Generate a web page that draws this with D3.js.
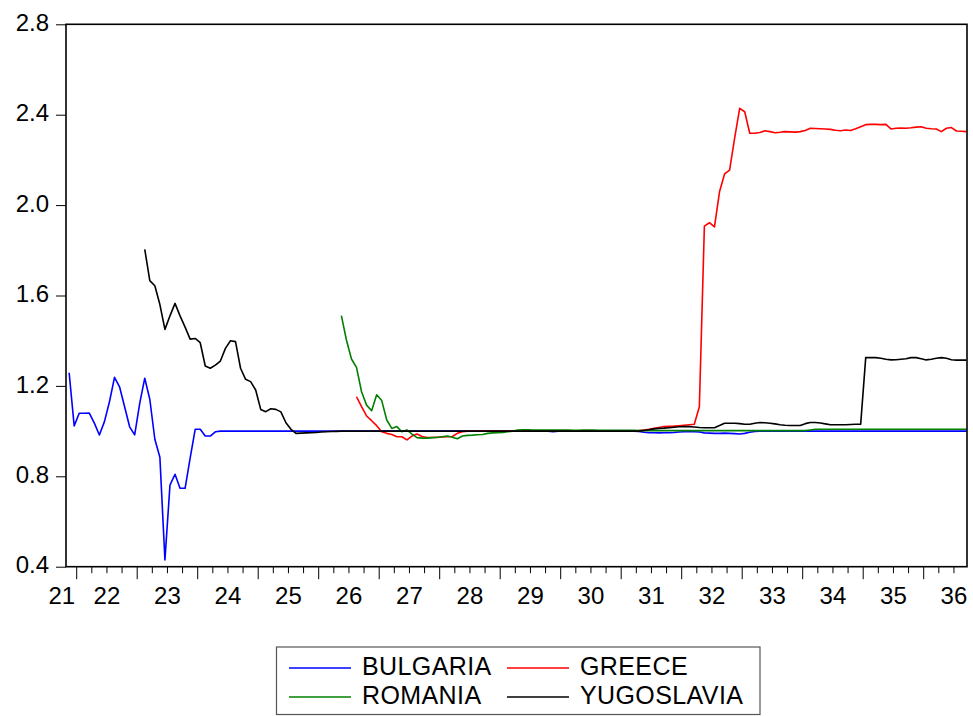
<!DOCTYPE html>
<html>
<head>
<meta charset="utf-8">
<script src="https://cdn.jsdelivr.net/npm/d3@7/dist/d3.min.js"></script>
<style>
  html, body { margin: 0; padding: 0; background: #fff; }
  svg { display: block; }
  text { font-family: "Liberation Sans", Arial, Helvetica, sans-serif; fill: #000; }
</style>
</head>
<body>
<svg id="chart" width="973" height="716"></svg>
<script>
// ---------------- DATA (monthly, Nov 1921 .. Sep 1936) ----------------
const startYear = 1921, startMonth = 11, nMonths = 179;
const seriesNames = ["BULGARIA", "GREECE", "ROMANIA", "YUGOSLAVIA"];
const seriesColors = ["#0000FF", "#FF0000", "#008000", "#000000"];
const yTickValues = [0.4, 0.8, 1.2, 1.6, 2.0, 2.4, 2.8];
const xYearLabels = [21, 22, 23, 24, 25, 26, 27, 28, 29, 30, 31, 32, 33, 34, 35, 36];

const N = null;
const bulgaria = [
  1.258, 1.023,
  1.079, 1.079, 1.080, 1.035, 0.983, 1.042, 1.130, 1.238, 1.196, 1.108, 1.019, 0.983,
  1.123, 1.234, 1.141, 0.964, 0.884, 0.430, 0.761, 0.809, 0.747, 0.747, 0.880, 1.008,
  1.008, 0.978, 0.978, 0.997, 1.000, 1.000, 1.000, 1.000, 1.000, 1.000, 1.000, 1.000,
  1.000, 1.000, 1.000, 1.000, 1.000, 1.000, 1.000, 1.000, 1.000, 1.000, 1.000, 1.000,
  1.000, 1.000, 1.000, 1.000, 1.000, 1.000, 1.000, 1.000, 1.000, 1.000, 1.000, 1.000,
  1.000, 1.000, 1.000, 1.000, 1.000, 1.000, 1.000, 1.000, 1.000, 1.000, 1.000, 1.000,
  1.000, 1.000, 1.000, 1.000, 1.000, 1.000, 1.000, 1.000, 1.000, 1.000, 1.000, 1.000,
  1.000, 1.000, 1.000, 1.000, 1.000, 1.000, 1.000, 1.000, 1.000, 1.000, 0.997, 1.000,
  1.000, 1.000, 1.000, 1.000, 1.000, 1.000, 1.000, 1.000, 1.000, 1.000, 1.000, 1.000,
  1.000, 1.000, 1.000, 0.998, 0.995, 0.993, 0.993, 0.992, 0.993, 0.993, 0.994, 0.996,
  0.997, 0.997, 0.997, 0.996, 0.992, 0.991, 0.990, 0.990, 0.991, 0.990, 0.989, 0.987,
  0.990, 0.995, 0.998, 1.000, 1.000, 1.000, 1.000, 1.000, 1.000, 1.000, 1.000, 1.000,
  1.000, 1.000, 1.000, 1.000, 1.000, 1.000, 1.000, 1.000, 1.000, 1.000, 1.000, 1.000,
  1.000, 1.000, 1.000, 1.000, 1.000, 1.000, 1.000, 1.000, 1.000, 1.000, 1.000, 1.000,
  1.000, 1.000, 1.000, 1.000, 1.000, 1.000, 1.000, 1.000, 1.000
];
const greece = [
  N, N,
  N, N, N, N, N, N, N, N, N, N, N, N,
  N, N, N, N, N, N, N, N, N, N, N, N,
  N, N, N, N, N, N, N, N, N, N, N, N,
  N, N, N, N, N, N, N, N, N, N, N, N,
  N, N, N, N, N, N, N, 1.152, 1.108, 1.067, 1.046, 1.024,
  0.997, 0.990, 0.985, 0.975, 0.975, 0.961, 0.978, 0.987, 0.976, 0.972, 0.972, 0.973,
  0.974, 0.975, 0.976, 0.990, 0.997, 1.000, 1.000, 1.000, 1.000, 1.000, 1.000, 1.000,
  1.000, 1.000, 1.000, 1.000, 1.000, 1.000, 1.000, 1.000, 1.000, 1.000, 1.000, 1.000,
  1.000, 1.000, 1.000, 1.000, 1.000, 1.000, 1.000, 1.000, 1.000, 1.000, 1.000, 1.000,
  1.000, 1.000, 1.000, 1.002, 1.005, 1.008, 1.012, 1.016, 1.020, 1.021, 1.022, 1.024,
  1.026, 1.028, 1.030, 1.108, 1.907, 1.922, 1.904, 2.059, 2.138, 2.155, 2.296, 2.428,
  2.413, 2.318, 2.318, 2.321, 2.329, 2.325, 2.320, 2.322, 2.325, 2.324, 2.323, 2.325,
  2.330, 2.340, 2.339, 2.338, 2.337, 2.335, 2.331, 2.329, 2.332, 2.330, 2.338, 2.347,
  2.356, 2.357, 2.357, 2.356, 2.357, 2.337, 2.340, 2.341, 2.340, 2.342, 2.345, 2.347,
  2.340, 2.338, 2.337, 2.325, 2.340, 2.343, 2.328, 2.327, 2.325
];
const romania = [
  N, N,
  N, N, N, N, N, N, N, N, N, N, N, N,
  N, N, N, N, N, N, N, N, N, N, N, N,
  N, N, N, N, N, N, N, N, N, N, N, N,
  N, N, N, N, N, N, N, N, N, N, N, N,
  N, N, N, N, 1.511, 1.403, 1.319, 1.282, 1.174, 1.115, 1.090, 1.161,
  1.135, 1.049, 1.012, 1.020, 0.997, 1.005, 0.987, 0.971, 0.969, 0.969, 0.971, 0.972,
  0.975, 0.978, 0.973, 0.966, 0.978, 0.981, 0.982, 0.984, 0.985, 0.990, 0.992, 0.993,
  0.994, 0.997, 1.000, 1.005, 1.006, 1.006, 1.005, 1.005, 1.005, 1.005, 1.005, 1.005,
  1.005, 1.005, 1.004, 1.004, 1.005, 1.005, 1.005, 1.004, 1.004, 1.004, 1.003, 1.003,
  1.003, 1.003, 1.003, 1.002, 1.002, 1.002, 1.002, 1.002, 1.002, 1.002, 1.002, 1.002,
  1.002, 1.002, 1.002, 1.002, 1.002, 1.002, 1.002, 1.002, 1.002, 1.002, 1.002, 1.002,
  1.002, 1.002, 1.002, 1.002, 1.002, 1.002, 1.002, 1.002, 1.002, 1.002, 1.002, 1.002,
  1.002, 1.005, 1.008, 1.008, 1.008, 1.008, 1.008, 1.008, 1.008, 1.008, 1.008, 1.008,
  1.008, 1.008, 1.008, 1.008, 1.008, 1.008, 1.008, 1.008, 1.008, 1.008, 1.008, 1.008,
  1.008, 1.008, 1.008, 1.008, 1.008, 1.008, 1.008, 1.008, 1.008
];
const yugoslavia = [
  N, N,
  N, N, N, N, N, N, N, N, N, N, N, N,
  N, 1.804, 1.666, 1.643, 1.560, 1.450, 1.510, 1.565, 1.510, 1.460, 1.407, 1.410,
  1.391, 1.288, 1.278, 1.292, 1.310, 1.366, 1.400, 1.396, 1.278, 1.229, 1.219, 1.182,
  1.096, 1.086, 1.099, 1.096, 1.085, 1.037, 1.008, 0.990, 0.991, 0.992, 0.993, 0.994,
  0.996, 0.997, 0.998, 0.999, 1.000, 1.000, 1.000, 1.000, 1.000, 1.000, 1.000, 1.000,
  1.000, 1.000, 1.000, 1.000, 1.000, 1.000, 1.000, 1.000, 1.000, 1.000, 1.000, 1.000,
  1.000, 1.000, 1.000, 1.000, 1.000, 1.000, 1.000, 1.000, 1.000, 1.000, 1.000, 1.000,
  1.000, 1.000, 1.000, 1.000, 1.000, 1.000, 1.000, 1.000, 1.000, 1.000, 1.000, 1.000,
  1.000, 1.000, 1.000, 1.000, 1.000, 1.000, 1.000, 1.000, 1.000, 1.000, 1.000, 1.000,
  1.000, 1.000, 1.000, 1.000, 1.003, 1.006, 1.010, 1.012, 1.013, 1.015, 1.017, 1.019,
  1.020, 1.020, 1.018, 1.016, 1.015, 1.015, 1.015, 1.025, 1.035, 1.035, 1.035, 1.033,
  1.030, 1.030, 1.035, 1.038, 1.037, 1.035, 1.032, 1.028, 1.026, 1.025, 1.025, 1.025,
  1.033, 1.038, 1.038, 1.036, 1.032, 1.028, 1.028, 1.028, 1.028, 1.029, 1.030, 1.031,
  1.325, 1.325, 1.325, 1.322, 1.318, 1.315, 1.316, 1.318, 1.320, 1.325, 1.325, 1.320,
  1.315, 1.318, 1.322, 1.325, 1.322, 1.316, 1.314, 1.314, 1.314
];
const seriesValues = [bulgaria, greece, romania, yugoslavia];

// ---------------- LAYOUT ----------------
const svg = d3.select("#chart");
const frame = { left: 66, right: 967, top: 24.3, bottom: 566.7 };
const FS_AXIS = 24, FS_LEG = 25;

// time (fractional year) -> px ; observations plotted mid-month
const x = d3.scaleLinear().domain([1922, 1936]).range([76.7, 923.7]);
const y = d3.scaleLinear().domain([0.4, 2.8]).range([frame.bottom, frame.top]);
const tOf = i => startYear + (startMonth - 1 + i + 0.5) / 12;

// ---------------- SERIES ----------------
const line = d3.line()
  .defined(d => d.v != null)
  .x(d => x(d.t))
  .y(d => y(d.v));

const gLines = svg.append("g");
seriesValues.forEach((vals, k) => {
  const pts = vals.slice(0, nMonths).map((v, i) => ({ t: tOf(i), v }));
  gLines.append("path")
    .attr("d", line(pts))
    .attr("fill", "none")
    .attr("stroke", seriesColors[k])
    .attr("stroke-width", 1.6)
    .attr("stroke-linejoin", "round");
});

// ---------------- FRAME ----------------
svg.append("rect")
  .attr("x", frame.left).attr("y", frame.top)
  .attr("width", frame.right - frame.left).attr("height", frame.bottom - frame.top)
  .attr("fill", "none").attr("stroke", "#000").attr("stroke-width", 1.6);

// ---------------- Y AXIS ----------------
const yAxis = d3.axisLeft(y).tickValues(yTickValues).tickFormat(d3.format(".1f"))
  .tickSize(10).tickPadding(7);
const gy = svg.append("g").attr("transform", `translate(${frame.left},0)`).call(yAxis);
gy.select(".domain").remove();
gy.selectAll(".tick line").attr("stroke", "#000").attr("stroke-width", 1);
gy.selectAll(".tick text")
  .attr("font-size", FS_AXIS)
  .attr("font-family", '"Liberation Sans", Arial, sans-serif')
  .attr("dy", "0.26em")
  .attr("fill", "#000");

// ---------------- X AXIS ----------------
const tMin = x.invert(frame.left), tMax = x.invert(frame.right);
const quarterTicks = [];
for (let q = Math.ceil(tMin * 4); q <= Math.floor(tMax * 4); q++) quarterTicks.push(q / 4);
const gx = svg.append("g");
gx.selectAll("line.tk").data(quarterTicks).join("line")
  .attr("x1", d => x(d)).attr("x2", d => x(d))
  .attr("y1", frame.bottom)
  .attr("y2", d => frame.bottom + (Math.abs(d - Math.round(d)) < 1e-6 ? 12.5 : 6.5))
  .attr("stroke", "#000").attr("stroke-width", 1);

gx.selectAll("text").data(xYearLabels).join("text")
  .attr("font-size", FS_AXIS)
  .attr("y", 604.3)
  .each(function (d) {
    const yr = 1900 + d;
    let cx = x(yr + 0.5);
    const t = d3.select(this);
    if (cx < frame.left) {
      t.attr("x", x(yr + 1) - 1.5).attr("text-anchor", "end");
    } else {
      t.attr("x", cx).attr("text-anchor", "middle");
    }
  })
  .text(d => String(d));

// ---------------- LEGEND ----------------
const leg = svg.append("g");
leg.append("rect")
  .attr("x", 276.5).attr("y", 647).attr("width", 483.5).attr("height", 67.5)
  .attr("fill", "#fff").attr("stroke", "#555").attr("stroke-width", 1.2);
const legPos = [
  { lx: 289, ly: 668, tx: 362, ty: 674.5 },
  { lx: 507, ly: 668, tx: 580, ty: 674.5 },
  { lx: 289, ly: 697, tx: 362, ty: 703.5 },
  { lx: 507, ly: 697, tx: 580, ty: 703.5 }
];
seriesNames.forEach((name, k) => {
  const p = legPos[k];
  leg.append("line")
    .attr("x1", p.lx).attr("x2", p.lx + 62)
    .attr("y1", p.ly).attr("y2", p.ly)
    .attr("stroke", seriesColors[k]).attr("stroke-width", 1.6);
  leg.append("text")
    .attr("x", p.tx).attr("y", p.ty)
    .attr("font-size", FS_LEG)
    .attr("letter-spacing", "0.4px")
    .text(name);
});
</script>
</body>
</html>
